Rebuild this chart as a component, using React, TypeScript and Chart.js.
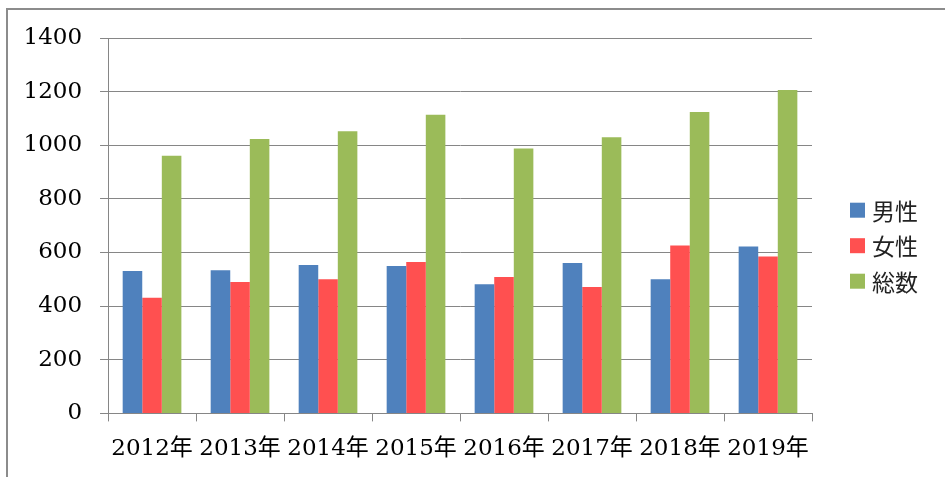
import React, { useEffect, useRef } from "react";
import { Chart, registerables } from "chart.js";

Chart.register(...registerables);

const categories = ["2012年", "2013年", "2014年", "2015年", "2016年", "2017年", "2018年", "2019年"];
const male = [531, 534, 553, 550, 482, 561, 500, 622];
const female = [431, 490, 500, 565, 509, 471, 626, 585];
const total = [961, 1023, 1052, 1114, 988, 1030, 1124, 1206];
const seriesLabels = ["男性", "女性", "総数"];
const seriesColors = ["#4F81BD", "#FF5050", "#9BBB59"];
const yMin = 0;
const yMax = 1400;
const yStep = 200;

const legendPlugin = {
  id: "sideLegend",
  afterDraw(chart: any) {
    const { ctx, chartArea } = chart;
    const x = chartArea.right + 38;
    const midY = (chartArea.top + chartArea.bottom) / 2 + 20;
    ctx.save();
    ctx.font = "23px 'Noto Sans CJK JP', sans-serif";
    ctx.textBaseline = "middle";
    ctx.textAlign = "left";
    chart.data.datasets.forEach((ds: any, i: number) => {
      const y = midY + (i - 1) * 35.5;
      ctx.fillStyle = ds.backgroundColor;
      ctx.fillRect(x, y - 7.5, 15, 15);
      ctx.fillStyle = "#222";
      ctx.fillText(ds.label, x + 22, y + 1);
    });
    ctx.restore();
  },
};

const serif = "'DejaVu Serif', 'Noto Sans CJK JP', serif";

export default function App() {
  const ref = useRef<HTMLCanvasElement | null>(null);
  useEffect(() => {
    if (!ref.current) return;
    const series = [male, female, total];
    const chart = new Chart(ref.current, {
      type: "bar",
      data: {
        labels: categories,
        datasets: series.map((d, i) => ({
          label: seriesLabels[i],
          data: d,
          backgroundColor: seriesColors[i],
          borderWidth: 0,
          categoryPercentage: 0.667,
          barPercentage: 1,
        })),
      },
      options: {
        animation: false,
        responsive: false,
        layout: { padding: { left: 5.5, right: 133, top: 38, bottom: 0 } },
        plugins: { legend: { display: false }, tooltip: { enabled: false } },
        scales: {
          x: {
            grid: { drawOnChartArea: false, drawTicks: true, tickLength: 8, color: "#868686", lineWidth: 1 },
            border: { display: true, color: "#868686", width: 1 },
            ticks: {
              color: "#000",
              padding: 14,
              maxRotation: 0,
              autoSkip: false,
              font: { family: serif, size: 23 },
            },
          },
          y: {
            min: yMin,
            max: yMax,
            grid: { color: "#868686", lineWidth: 1, drawTicks: true, tickLength: 8 },
            border: { display: true, color: "#868686", width: 1 },
            ticks: {
              stepSize: yStep,
              color: "#000",
              padding: 18,
              callback: (v: any) => String(v),
              font: { family: serif, size: 23 },
            },
          },
        },
      },
      plugins: [legendPlugin],
    });
    return () => chart.destroy();
  }, []);
  return (
    <div style={{ position: "fixed", left: 0, top: 0, width: 945, height: 477, overflow: "hidden", background: "#fff" }}>
      <div
        style={{
          position: "absolute",
          left: 6,
          top: 8,
          width: 960,
          height: 500,
          border: "2px solid #8c8c8c",
          boxSizing: "border-box",
        }}
      />
      <canvas ref={ref} width={945} height={477} style={{ position: "absolute", left: 0, top: 0, width: 945, height: 477 }} />
    </div>
  );
}
